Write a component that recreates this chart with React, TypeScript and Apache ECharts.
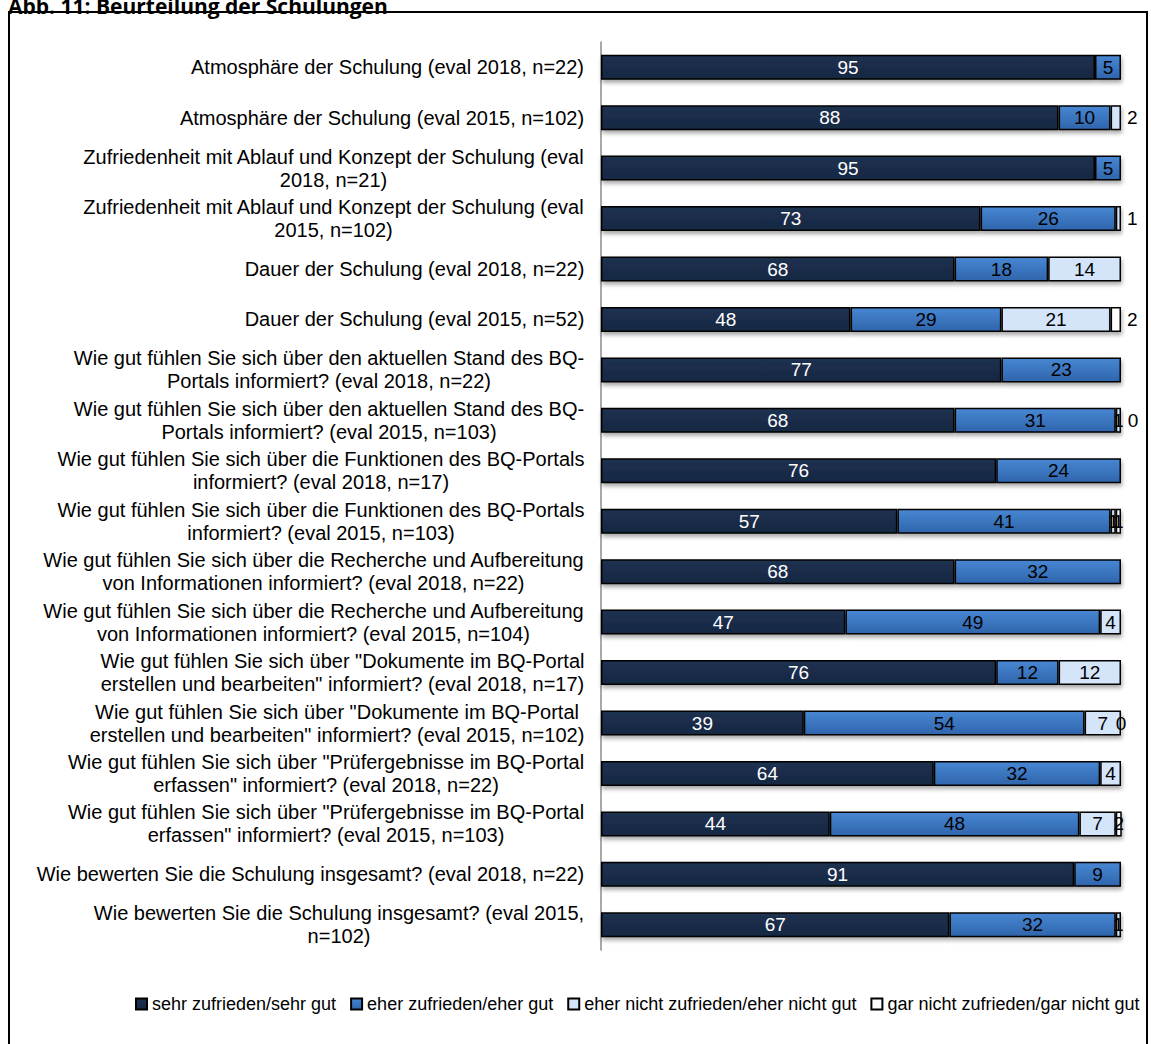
import React, { useEffect, useRef } from "react";
import * as echarts from "echarts";

const CATEGORIES: string[] = [
  "Atmosphäre der Schulung (eval 2018, n=22)",
  "Atmosphäre der Schulung (eval 2015, n=102)",
  "Zufriedenheit mit Ablauf und Konzept der Schulung (eval\n2018, n=21)",
  "Zufriedenheit mit Ablauf und Konzept der Schulung (eval\n2015, n=102)",
  "Dauer der Schulung (eval 2018, n=22)",
  "Dauer der Schulung (eval 2015, n=52)",
  "Wie gut fühlen Sie sich über den aktuellen Stand des BQ-\nPortals informiert? (eval 2018, n=22)",
  "Wie gut fühlen Sie sich über den aktuellen Stand des BQ-\nPortals informiert? (eval 2015, n=103)",
  "Wie gut fühlen Sie sich über die Funktionen des BQ-Portals\ninformiert? (eval 2018, n=17)",
  "Wie gut fühlen Sie sich über die Funktionen des BQ-Portals\ninformiert? (eval 2015, n=103)",
  "Wie gut fühlen Sie sich über die Recherche und Aufbereitung\nvon Informationen informiert? (eval 2018, n=22)",
  "Wie gut fühlen Sie sich über die Recherche und Aufbereitung\nvon Informationen informiert? (eval 2015, n=104)",
  "Wie gut fühlen Sie sich über \"Dokumente im BQ-Portal\nerstellen und bearbeiten\" informiert? (eval 2018, n=17)",
  "Wie gut fühlen Sie sich über \"Dokumente im BQ-Portal\nerstellen und bearbeiten\" informiert? (eval 2015, n=102)",
  "Wie gut fühlen Sie sich über \"Prüfergebnisse im BQ-Portal\nerfassen\" informiert? (eval 2018, n=22)",
  "Wie gut fühlen Sie sich über \"Prüfergebnisse im BQ-Portal\nerfassen\" informiert? (eval 2015, n=103)",
  "Wie bewerten Sie die Schulung insgesamt? (eval 2018, n=22)",
  "Wie bewerten Sie die Schulung insgesamt? (eval 2015,\nn=102)",
];

const SERIES_NAMES: string[] = [
  "sehr zufrieden/sehr gut",
  "eher zufrieden/eher gut",
  "eher nicht zufrieden/eher nicht gut",
  "gar nicht zufrieden/gar nicht gut",
];

const SEHR_GUT: number[] = [95, 88, 95, 73, 68, 48, 77, 68, 76, 57, 68, 47, 76, 39, 64, 44, 91, 67];
const EHER_GUT: number[] = [5, 10, 5, 26, 18, 29, 23, 31, 24, 41, 32, 49, 12, 54, 32, 48, 9, 32];
const EHER_NICHT: number[] = [0, 2, 0, 1, 14, 21, 0, 1, 0, 1, 0, 4, 12, 7, 4, 7, 0, 1];
const GAR_NICHT: number[] = [0, 0, 0, 0, 0, 2, 0, 0, 0, 1, 0, 1, 0, 0, 0, 2, 0, 0];

// [row, series] whose label sits outside the bar end
const OUTSIDE_LABELS: [number, number][] = [[1, 2], [3, 2], [5, 3], [7, 3]];
// [row, series] with a value of 0 whose label is still shown
const ZERO_LABELS: [number, number][] = [[7, 3], [13, 3]];

const FONT = '"Liberation Sans", Arial, sans-serif';
const FS = 20;

export default function App() {
  const ref = useRef<HTMLDivElement>(null);
  useEffect(() => {
    document.body.style.margin = "0";
    if (!ref.current) return;
    const chart = echarts.init(ref.current, undefined, { renderer: "svg" });

    const canvas = document.createElement("canvas");
    const ctx = canvas.getContext("2d")!;
    ctx.font = `${FS}px "Liberation Sans"`;
    const rich: Record<string, any> = {};
    CATEGORIES.forEach((c, i) => {
      const lines = c.split("\n");
      const w = Math.max(...lines.map((l) => ctx.measureText(l).width));
      rich["l" + i] = { width: Math.ceil(w) + 1, align: "center", fontSize: FS, fontFamily: FONT, color: "#000", lineHeight: 23 };
    });

    const values = [SEHR_GUT, EHER_GUT, EHER_NICHT, GAR_NICHT];
    const isIn = (list: [number, number][], r: number, s: number) => list.some(([a, b]) => a === r && b === s);

    const colors: any[] = [
      new echarts.graphic.LinearGradient(0, 0, 0, 1, [
        { offset: 0, color: "#1d3150" },
        { offset: 1, color: "#172842" },
      ]),
      new echarts.graphic.LinearGradient(0, 0, 0, 1, [
        { offset: 0, color: "#4887d3" },
        { offset: 1, color: "#2f65ac" },
      ]),
      "#d4e4f9",
      "#ffffff",
    ];
    const labelColors = ["#ffffff", "#000000", "#000000", "#000000"];

    const series = values.map((vals, s) => ({
      name: SERIES_NAMES[s],
      type: "bar",
      stack: "total",
      barWidth: 25,
      itemStyle: {
        color: colors[s],
        borderColor: "#000",
        borderWidth: 1.5,
        shadowColor: "rgba(0,0,0,0.35)",
        shadowBlur: 4,
        shadowOffsetX: 1,
        shadowOffsetY: 3,
      },
      label: {
        show: true,
        position: "inside",
        color: labelColors[s],
        fontSize: 19,
        fontFamily: FONT,
        formatter: (p: any) => String(p.value),
      },
      data: vals.map((v, r) => {
        const out = isIn(OUTSIDE_LABELS, r, s);
        const show = v !== 0 || isIn(ZERO_LABELS, r, s);
        const item: any = { value: v };
        if (!show) item.label = { show: false };
        else if (out) item.label = { show: true, position: "right", distance: 6 };
        return item;
      }),
    }));

    chart.setOption({
      animation: false,
      textStyle: { fontFamily: FONT },
      grid: { left: 601, width: 520, top: 42, height: 908, containLabel: false },
      xAxis: {
        type: "value",
        min: 0,
        max: 100,
        show: false,
      },
      yAxis: {
        type: "category",
        inverse: true,
        data: CATEGORIES,
        axisLine: { show: true, lineStyle: { color: "#8c8c8c", width: 1.5 } },
        axisTick: { show: false },
        axisLabel: {
          margin: 16,
          color: "#000",
          fontSize: FS,
          fontFamily: FONT,
          lineHeight: 23,
          rich,
          formatter: (val: string) => {
            const idx = CATEGORIES.indexOf(val);
            return val
              .split("\n")
              .map((l) => `{l${idx}|${l}}`)
              .join("\n");
          },
        },
      },
      legend: {
        top: 990,
        left: 130,
        icon: "rect",
        itemWidth: 11,
        itemHeight: 11,
        itemGap: 14,
        textStyle: { fontSize: 18, fontFamily: FONT, color: "#000" },
        itemStyle: { shadowBlur: 0, shadowOffsetX: 0, shadowOffsetY: 0, borderWidth: 2, borderColor: "#000" },
        data: SERIES_NAMES,
      },
      graphic: [
        {
          type: "rect",
          shape: { x: 9, y: 12, width: 1138, height: 1100 },
          style: { fill: "none", stroke: "#000", lineWidth: 2 },
          silent: true,
          z: 0,
        },
        {
          type: "text",
          x: 8,
          y: 6,
          style: {
            text: "Abb. 11: Beurteilung der Schulungen",
            font: 'bold 21px "Open Sans", "Liberation Sans", sans-serif',
            fill: "#000",
            verticalAlign: "middle",
          },
        },
      ],
      series,
    });
    return () => chart.dispose();
  }, []);
  return <div ref={ref} style={{ width: 1151, height: 1044 }} />;
}
